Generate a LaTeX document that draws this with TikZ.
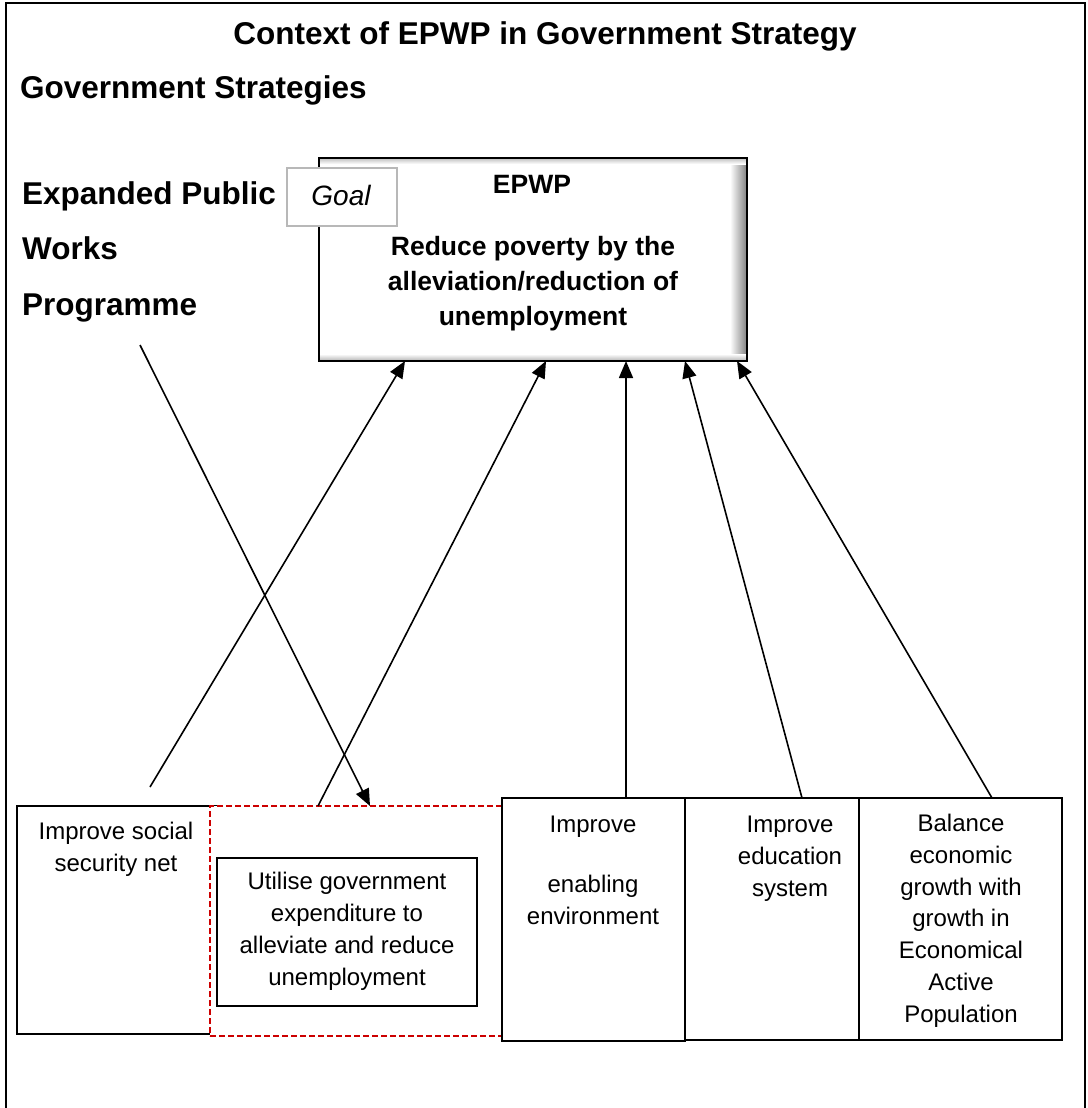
\documentclass[tikz,border=0pt]{standalone}
\usepackage{fontspec}
\setmainfont{Liberation Sans}
\usetikzlibrary{arrows.meta}
\begin{document}
\begin{tikzpicture}[x=1pt,y=-1pt,
  box/.style={draw, line width=1.8pt, inner sep=0pt, outer sep=0pt, anchor=north west, fill=white},
  arr/.style={line width=1.6pt, -{Triangle[length=17pt,width=14pt]}},
  heading/.style={font=\fontsize{31.5}{38}\selectfont\bfseries, inner sep=0pt, anchor=base west},
  epwptxt/.style={font=\fontsize{26.5}{35}\selectfont\bfseries, align=center, inner sep=0pt, anchor=base},
  boxtxt/.style={font=\fontsize{24}{31.7}\selectfont, align=center, inner sep=0pt, anchor=base}]
\useasboundingbox (0,0) rectangle (1087,1108);
% outer frame (bottom edge lies beyond the picture)
\draw[line width=2pt] (6,1112) -- (6,3) -- (1085,3) -- (1085,1112);
% headings
\node[heading, anchor=base] (title) at (545,45) {Context of EPWP in Government Strategy};
\node[heading] (gs) at (20,98) {Government Strategies};
\node[heading] (ep1) at (22,204) {Expanded Public};
\node[heading] (ep2) at (22,259) {Works};
\node[heading] (ep3) at (22,315) {Programme};
\coordinate (progend) at (140,345);
% EPWP goal box with shadow on the right
\node[box, draw=none, minimum width=428pt, minimum height=203pt] (epwp) at (319,158) {};
\shade[left color=white, right color=black!50] ([xshift=-17pt]epwp.north east) rectangle (epwp.south east);
\shade[top color=black!25, bottom color=white] (epwp.north west) rectangle ([yshift=-6pt]epwp.north east);
\shade[top color=white, bottom color=black!30] ([yshift=7pt]epwp.south west) rectangle (epwp.south east);
\draw[line width=1.8pt] (epwp.north west) rectangle (epwp.south east);
\node[epwptxt] (epwpt) at (532,193) {EPWP};
\node[epwptxt] (goaltext) at (533,325) {Reduce poverty by the\\alleviation/reduction of\\unemployment};
\node[box, draw=black!28, line width=2pt, minimum width=110pt, minimum height=58pt] (goal) at (287,168) {};
\node[font=\fontsize{28}{34}\selectfont\itshape, inner sep=0pt, anchor=base] (goalt) at (341,205) {Goal};
% bottom strategy boxes
\node[box, minimum width=200pt, minimum height=228pt] (social) at (17,806) {};
\node[boxtxt] (socialt) at (116,871) {Improve social\\security net};
\node[box, draw=red!80!black, dashed, dash pattern=on 6pt off 3pt, line width=1.5pt, minimum width=292pt, minimum height=230pt] (dash) at (210,806) {};
\node[box, line width=1.3pt, minimum width=260pt, minimum height=148pt] (util) at (217,858) {};
\node[boxtxt] (utilt) at (347,985) {Utilise government\\expenditure to\\alleviate and reduce\\unemployment};
\node[box, minimum width=203pt, minimum height=242pt] (bal) at (859,798) {};
\node[boxtxt] (balt) at (961,1022) {Balance\\economic\\growth with\\growth in\\Economical\\Active\\Population};
\node[box, minimum width=174pt, minimum height=242pt] (edu) at (685,798) {};
\node[boxtxt] (edut) at (790,896) {Improve\\education\\system};
\node[box, minimum width=183pt, minimum height=243pt] (env) at (502,798) {};
\node[boxtxt] (envt) at (593,832) {Improve};
\node[boxtxt] (envt2) at (593,924) {enabling\\environment};
% connectors
\coordinate (socialend) at (150,787);
\draw[arr] (socialend) -- ([xshift=86pt]epwp.south west);
\draw[arr] ([xshift=108pt]dash.north west) -- ([xshift=227pt]epwp.south west);
\draw[arr] ([xshift=124pt]env.north west) -- ([xshift=307pt]epwp.south west);
\draw[arr] ([xshift=117pt]edu.north west) -- ([xshift=366pt]epwp.south west);
\draw[arr] ([xshift=133pt]bal.north west) -- ([xshift=418pt]epwp.south west);
\draw[arr] (progend) -- ([xshift=160pt]dash.north west);
\end{tikzpicture}
\end{document}
